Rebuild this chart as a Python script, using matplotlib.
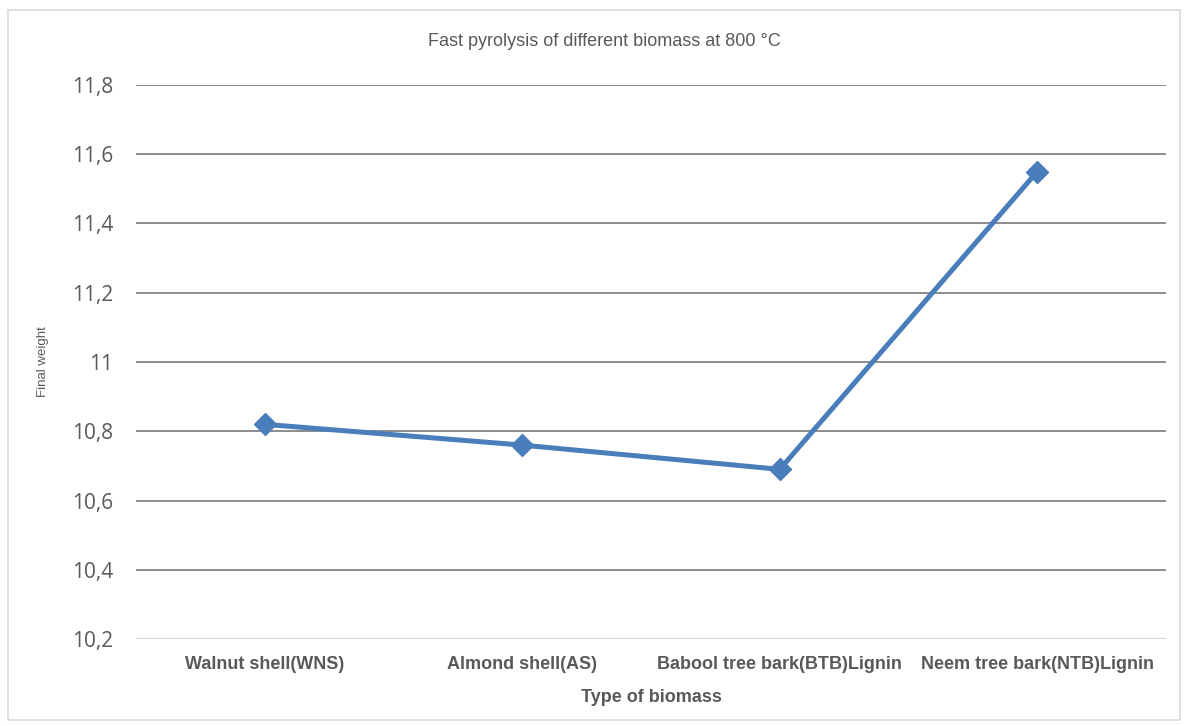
import matplotlib.pyplot as plt
from matplotlib.patches import Rectangle

categories = ['Walnut shell(WNS)', 'Almond shell(AS)',
              'Babool tree bark(BTB)Lignin', 'Neem tree bark(NTB)Lignin']
final_weight = [10.82, 10.76, 10.69, 11.55]
y_ticks = [10.2, 10.4, 10.6, 10.8, 11.0, 11.2, 11.4, 11.6, 11.8]
y_tick_labels = ['10,2', '10,4', '10,6', '10,8', '11', '11,2', '11,4', '11,6', '11,8']

fig = plt.figure(figsize=(11.88, 7.26), dpi=100)
ax = fig.add_axes([136 / 1188, 87 / 726, 1030 / 1188, 554 / 726])

# outer chart border
fig.patches.append(Rectangle((8 / 1188, 6 / 726), 1172 / 1188, 710 / 726,
                             transform=fig.transFigure, fill=False,
                             edgecolor='#d9d9d9', linewidth=1.2))

x = list(range(len(categories)))
ax.plot(x, final_weight, color='#4a7ebb', linewidth=3.6, marker='D',
        markersize=11, markerfacecolor='#4a7ebb', markeredgecolor='#4a7ebb',
        zorder=3)

ax.set_xlim(-0.5, 3.5)
ax.set_ylim(10.2, 11.8)
ax.set_yticks(y_ticks)
ax.set_yticklabels(y_tick_labels, fontfamily='Open Sans', fontsize=15, color='#595959')
ax.set_xticks(x)
ax.set_xticklabels(categories, fontfamily='Liberation Sans', fontweight='bold',
                   fontsize=13, color='#595959')
ax.tick_params(axis='both', length=0)
ax.tick_params(axis='y', pad=16.5)
ax.tick_params(axis='x', pad=12)

for v in y_ticks[1:]:
    ax.axhline(v, color='#8c8c8c', linewidth=1.4, zorder=1)
ax.axhline(10.2, color='#d9d9d9', linewidth=1.6, zorder=1)

for s in ax.spines.values():
    s.set_visible(False)

ax.set_xlabel('Type of biomass', fontfamily='Liberation Sans', fontweight='bold',
              fontsize=13, color='#595959', labelpad=12)
ax.set_ylabel('Final weight', fontfamily='Liberation Sans', fontsize=9.5,
              color='#595959', labelpad=16)

fig.text(604 / 1188, 1 - 42 / 726, 'Fast pyrolysis of different biomass at 800 °C',
         ha='center', va='center', fontfamily='Liberation Sans', fontsize=13,
         color='#595959')

fig.savefig('out.png', dpi=100)
